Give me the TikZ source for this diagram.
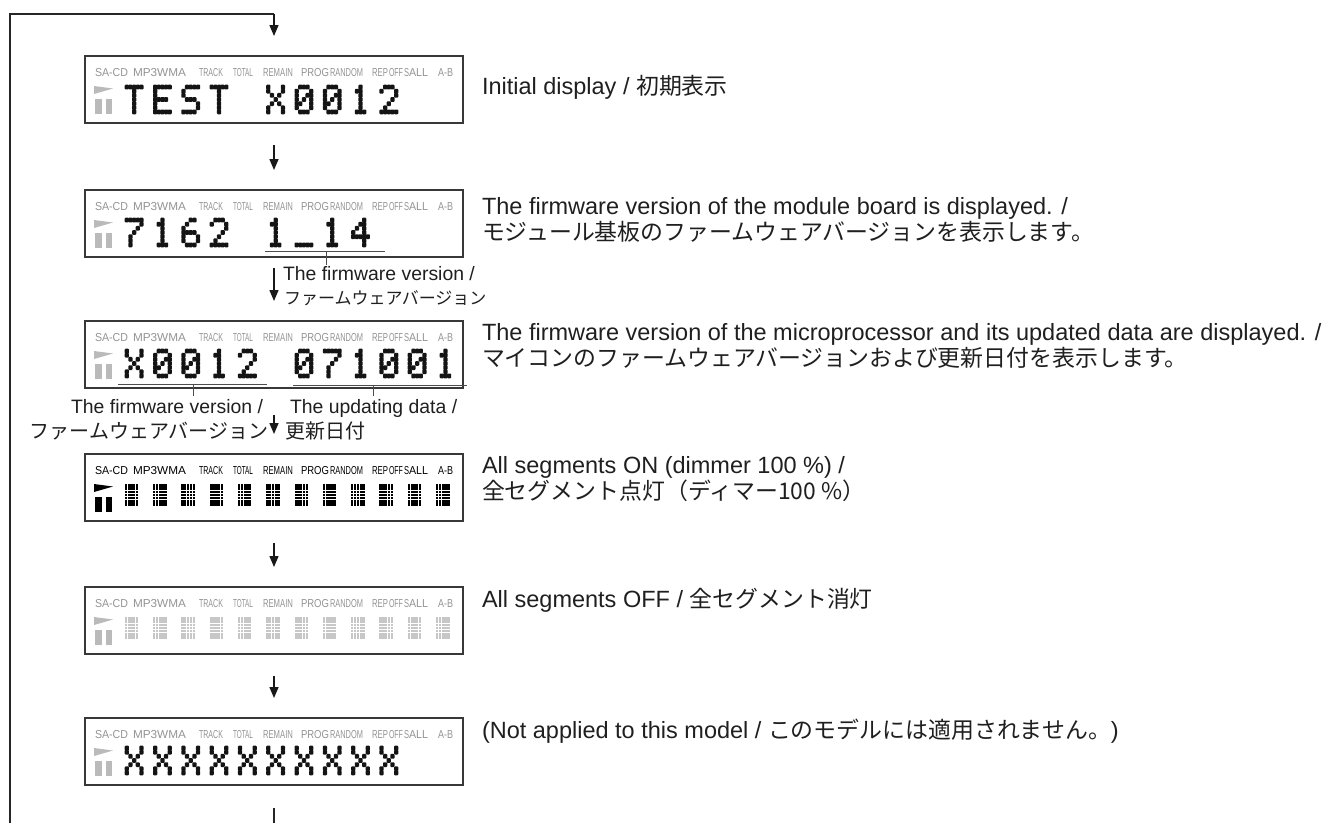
\documentclass[tikz,border=0pt]{standalone}
\usepackage{fontspec}
\setmainfont{Liberation Sans}
\newfontfamily\cjk{Noto Sans CJK JP}
\usepackage{graphicx}
\usetikzlibrary{arrows.meta}
% big Japanese / callout Japanese
\newcommand\J[1]{{\cjk\fontsize{22.9}{26}\selectfont #1}}
\newcommand\Js[1]{{\cjk\fontsize{20}{23}\selectfont #1}}
\newcommand\Jt[1]{{\cjk\fontsize{17}{20}\selectfont #1}}
% dot-matrix glyphs
\newcommand\gdot[3]{\ifnum#3=1 \fill[\dotcol,rounded corners=0.9pt] (\gx+#2*3.65-0.3,\gy+#1*4.14-0.3) rectangle ++(4.25,4.74);\fi}
\def\grow#1#2#3#4#5#6{\gdot{#1}{0}{#2}\gdot{#1}{1}{#3}\gdot{#1}{2}{#4}\gdot{#1}{3}{#5}\gdot{#1}{4}{#6}}
\def\grows#1#2#3#4#5#6#7{\grow{0}#1\grow{1}#2\grow{2}#3\grow{3}#4\grow{4}#5\grow{5}#6\grow{6}#7}
\newcommand\putg[3]{\def\gx{125+28.3*#1}\def\gy{#2}\expandafter\grows#3}
\def\dotcol{black!92}
\def\GT{{11111}{00100}{00100}{00100}{00100}{00100}{00100}}
\def\GE{{11111}{10000}{10000}{11110}{10000}{10000}{11111}}
\def\GS{{01111}{10000}{10000}{01110}{00001}{00001}{11110}}
\def\GX{{10001}{10001}{01010}{00100}{01010}{10001}{10001}}
\def\GZ{{01110}{10001}{10011}{10101}{11001}{10001}{01110}}
\def\GA{{00100}{01100}{00100}{00100}{00100}{00100}{01110}}
\def\GB{{01110}{10001}{00001}{00010}{00100}{01000}{11111}}
\def\GG{{11111}{00001}{00010}{00100}{01000}{01000}{01000}}
\def\GF{{00110}{01000}{10000}{11110}{10001}{10001}{01110}}
\def\GD{{00010}{00110}{01010}{10010}{11111}{00010}{00010}}
\def\GU{{00000}{00000}{00000}{00000}{00000}{00000}{11111}}
% segment cells
\newcommand\cells[2]{\foreach \k in {0,...,11}{\foreach \c in {0,...,4}{\foreach \r in {0,...,6}{\fill[#2] (124.5+28.3*\k+\c*2.8+0.25,#1+30+\r*3.14+0.3) rectangle ++(2.3,2.55);}}}}
% label row
\newcommand\lrow[3]{\foreach \xx/\ww/\lt [count=\n] in {95/33/SA-CD,133/53/MP3WMA,199/24/TRACK,233/20/TOTAL,263/30/REMAIN,301/28/PROG,330/33/RANDOM,372/16/REP,389/14/OFF,404/5/S,409/19/ALL,438/15/A-B}
  {\node[lbl,text=#2,anchor=base west] (lab#3-\n) at (\xx,#1+20) {\resizebox{\ww pt}{\height}{\lt}};}}
% play/pause icon
\newcommand\icon[2]{\fill[#2] (94,#1+30) -- (113,#1+32.5) -- (94,#1+38) -- cycle;
  \fill[#2] (95,#1+43) rectangle (102,#1+58); \fill[#2] (106,#1+43) rectangle (112,#1+58);}
\begin{document}
\begin{tikzpicture}[x=1pt,y=-1pt,
  ln/.style={line width=1.3pt,draw=black!85},
  arr/.style={line width=1.3pt,draw=black!90,-{Triangle[width=9pt,length=11pt]}},
  lcd/.style={draw=black!78,line width=1.6pt,fill=white,minimum width=378pt,minimum height=67pt,inner sep=0pt,outer sep=0pt},
  lead/.style={line width=0.8pt,draw=black!70},
  txt/.style={inner sep=0pt,outer sep=0pt,text=black!88,font=\fontsize{23.5}{27}\selectfont},
  stxt/.style={inner sep=0pt,outer sep=0pt,text=black!88,font=\fontsize{19.4}{22}\selectfont},
  jtxt/.style={inner sep=0pt,outer sep=0pt,text=black!88},
  lbl/.style={inner sep=0pt,outer sep=0pt,font=\fontsize{11.5}{13}\selectfont},
]
\useasboundingbox (0,0) rectangle (1328,823);
% boxes
\node[lcd] (b1) at (274,89.5) {};
\node[lcd] (b2) at (274,223.5) {};
\node[lcd] (b3) at (274,354.5) {};
\node[lcd] (b4) at (274,487.5) {};
\node[lcd] (b5) at (274,620.5) {};
\node[lcd] (b6) at (274,751.5) {};
% label rows and icons
\lrow{56}{black!42}{1}\icon{56}{black!27}
\lrow{190}{black!42}{2}\icon{190}{black!27}
\lrow{321}{black!42}{3}\icon{321}{black!27}
\lrow{454}{black}{4}\icon{454}{black}
\lrow{587}{black!42}{5}\icon{587}{black!27}
\lrow{718}{black!42}{6}\icon{718}{black!27}
% box 1: TEST X0012
\putg{0}{85}{\GT}\putg{1}{85}{\GE}\putg{2}{85}{\GS}\putg{3}{85}{\GT}
\putg{5}{85}{\GX}\putg{6}{85}{\GZ}\putg{7}{85}{\GZ}\putg{8}{85}{\GA}\putg{9}{85}{\GB}
% box 2: 7162 1_14
\putg{0}{218}{\GG}\putg{1}{218}{\GA}\putg{2}{218}{\GF}\putg{3}{218}{\GB}
\putg{5}{218}{\GA}\putg{6}{218}{\GU}\putg{7}{218}{\GA}\putg{8}{218}{\GD}
% box 3: X0012 071001
\putg{0}{349}{\GX}\putg{1}{349}{\GZ}\putg{2}{349}{\GZ}\putg{3}{349}{\GA}\putg{4}{349}{\GB}
\putg{6}{349}{\GZ}\putg{7}{349}{\GG}\putg{8}{349}{\GA}\putg{9}{349}{\GZ}\putg{10}{349}{\GZ}\putg{11}{349}{\GA}
% box 4, 5: all segments
\cells{454}{black}
\cells{587}{black!22}
% box 6: XXXXXXXXXX
\foreach \i in {0,...,9}{\putg{\i}{746}{\GX}}
% loop
\coordinate (L0) at (10,823);
\coordinate (L1) at (10,14);
\coordinate (L2) at (274,14);
\draw[ln] (L0) -- (L1) -- (L2);
\draw[arr] (L2) -- ([yshift=20pt]b1.north);
\draw[arr] ([yshift=-22pt]b1.south) -- ([yshift=20pt]b2.north);
\draw[arr] ([yshift=-11pt]b2.south) -- ([yshift=20pt]b3.north);
\draw[arr] ([yshift=-27pt]b3.south) -- ([yshift=20pt]b4.north);
\draw[arr] ([yshift=-22pt]b4.south) -- ([yshift=20pt]b5.north);
\draw[arr] ([yshift=-22pt]b5.south) -- ([yshift=20pt]b6.north);
\coordinate (E0) at ([yshift=-23pt]b6.south);
\coordinate (E1) at (274,823);
\draw[ln] (E0) -- (E1);
% callouts box 2
\coordinate (u2a) at (265,251); \coordinate (u2b) at (385,251);
\coordinate (u2m) at (326,251); \coordinate (u2t) at (326,265);
\draw[lead] (u2a) -- (u2b); \draw[lead] (u2m) -- (u2t);
\node[stxt,anchor=base west] (c2a) at (283,280) {The firmware version /};
\node[jtxt,anchor=base west] (c2b) at (284,304) {\Jt{ファームウェアバージョン}};
% callouts box 3
\coordinate (u3a) at (118,384); \coordinate (u3b) at (267,384);
\coordinate (u3m) at (193,384); \coordinate (u3t) at (193,396);
\coordinate (u3c) at (293,385); \coordinate (u3d) at (467,385);
\coordinate (u3n) at (373,385); \coordinate (u3s) at (373,396);
\draw[lead] (u3a) -- (u3b); \draw[lead] (u3m) -- (u3t);
\draw[lead] (u3c) -- (u3d); \draw[lead] (u3n) -- (u3s);
\node[stxt,anchor=base east] (c3a) at (263,413) {The firmware version /};
\node[jtxt,anchor=base east] (c3b) at (268,438) {\Js{ファームウェアバージョン}};
\node[stxt,anchor=base west] (c3c) at (290,413) {The updating data /};
\node[jtxt,anchor=base west] (c3d) at (285,438) {\Js{更新日付}};
% right-hand descriptions
\node[txt,anchor=base west] (t1) at (482,94) {Initial display / \J{初期表示}};
\node[txt,anchor=base west] (t2a) at (482,214) {The firmware version of the module board is displayed. /};
\node[txt,anchor=base west] (t2b) at (482,240) {\J{モジュール基板のファームウェアバージョンを表示します。}};
\node[txt,anchor=base west] (t3a) at (482,340) {The firmware version of the microprocessor and its updated data are displayed. /};
\node[txt,anchor=base west] (t3b) at (482,366) {\J{マイコンのファームウェアバージョンおよび更新日付を表示します。}};
\node[txt,anchor=base west] (t4a) at (482,473) {All segments ON (dimmer 100 \%) /};
\node[txt,anchor=base west] (t4b) at (482,499) {\J{全セグメント点灯（ディマー100 \%）}};
\node[txt,anchor=base west] (t5) at (482,607) {All segments OFF / \J{全セグメント消灯}};
\node[txt,anchor=base west] (t6) at (482,738) {(Not applied to this model / \J{このモデルには適用されません。})};
\end{tikzpicture}
\end{document}
